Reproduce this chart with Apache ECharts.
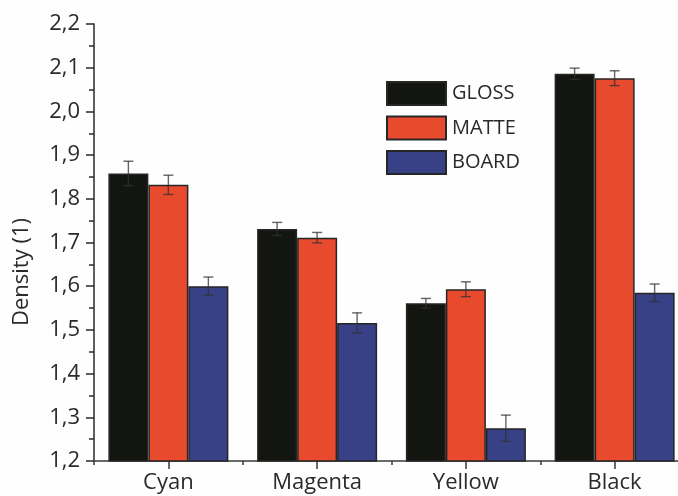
<!DOCTYPE html>
<html>
<head>
<meta charset="utf-8">
<script src="https://cdn.jsdelivr.net/npm/echarts@6/dist/echarts.min.js"></script>
<style>
  html, body { margin: 0; padding: 0; background: #fefefe; overflow: hidden; }
  #chart { width: 700px; height: 496px; }
</style>
</head>
<body>
<div id="chart"></div>
<script>
// Ink densities per colour and paper type, with standard deviations
const categories = ['Cyan', 'Magenta', 'Yellow', 'Black'];
const seriesNames = ['GLOSS', 'MATTE', 'BOARD'];
const gloss    = [1.858, 1.731, 1.561, 2.086];
const glossErr = [0.028, 0.015, 0.011, 0.013];
const matte    = [1.832, 1.711, 1.593, 2.076];
const matteErr = [0.022, 0.012, 0.017, 0.017];
const board    = [1.600, 1.516, 1.275, 1.585];
const boardErr = [0.021, 0.023, 0.030, 0.020];
const yTicks   = [1.2, 2.2, 0.1]; // min, max, step

const colors = ['#131511', '#e84a2e', '#384186'];
const values = [gloss, matte, board];
const errors = [glossErr, matteErr, boardErr];
const BAR_W = 40;
const FONT = '"Open Sans", sans-serif';
const TEXT_COLOR = '#2a2a2a';

const chart = echarts.init(document.getElementById('chart'), null, { renderer: 'canvas' });

const barSeries = seriesNames.map((name, s) => ({
  name: name,
  type: 'bar',
  xAxisIndex: 0,
  barWidth: BAR_W,
  barGap: '0%',
  itemStyle: { color: colors[s], borderColor: '#262626', borderWidth: 1.5 },
  data: values[s],
  z: 2
}));

// error bars drawn on top of each bar
const errSeries = seriesNames.map((name, s) => ({
  type: 'custom',
  xAxisIndex: 0,
  z: 5,
  silent: true,
  data: values[s].map((v, i) => [i, v, errors[s][i]]),
  renderItem: function (params, api) {
    const i = api.value(0), v = api.value(1), e = api.value(2);
    const top = api.coord([i, v + e]);
    const bot = api.coord([i, v - e]);
    const x = top[0] + (s - 1) * BAR_W;
    const cap = 5;
    const st = { stroke: 'rgba(50,50,50,0.75)', lineWidth: 1.4 };
    return {
      type: 'group',
      children: [
        { type: 'line', shape: { x1: x, y1: top[1], x2: x, y2: bot[1] }, style: st },
        { type: 'line', shape: { x1: x - cap, y1: top[1], x2: x + cap, y2: top[1] }, style: st },
        { type: 'line', shape: { x1: x - cap, y1: bot[1], x2: x + cap, y2: bot[1] }, style: st }
      ]
    };
  }
}));

chart.setOption({
  animation: false,
  backgroundColor: '#fefefe',
  grid: { left: 94, top: 24, right: 11, bottom: 35 },
  legend: {
    orient: 'vertical',
    left: 386,
    top: 81,
    padding: 0,
    itemWidth: 59,
    itemHeight: 23,
    itemGap: 9.5,
    icon: 'rect',
    data: seriesNames,
    textStyle: { fontFamily: FONT, fontSize: 20, color: TEXT_COLOR, padding: [0, 0, 0, 1] }
  },
  xAxis: [
    {
      type: 'category',
      data: categories,
      position: 'bottom',
      axisLine: { lineStyle: { color: '#3a3a3a', width: 1.5 } },
      axisTick: { show: true, length: 4, lineStyle: { color: '#3a3a3a', width: 1.5 } },
      axisLabel: { show: false }
    },
    {
      type: 'category',
      data: categories,
      position: 'bottom',
      axisLine: { show: false },
      axisTick: { show: true, alignWithLabel: true, length: 8, lineStyle: { color: '#3a3a3a', width: 1.5 } },
      axisLabel: { margin: 11, fontFamily: FONT, fontSize: 22, color: TEXT_COLOR }
    }
  ],
  yAxis: {
    type: 'value',
    min: yTicks[0],
    max: yTicks[1],
    interval: yTicks[2],
    axisLine: { show: true, lineStyle: { color: '#2a2a2a', width: 1.5 } },
    axisTick: { show: true, length: 8, lineStyle: { color: '#2a2a2a', width: 1.5 } },
    minorTick: { show: true, splitNumber: 2, length: 5, lineStyle: { color: '#2a2a2a', width: 1.5 } },
    splitLine: { show: false },
    axisLabel: {
      margin: 14,
      fontFamily: FONT,
      fontSize: 22,
      color: TEXT_COLOR,
      formatter: v => v.toFixed(1).replace('.', ',')
    }
  },
  graphic: [{
    type: 'text',
    x: 22,
    y: 272,
    rotation: Math.PI / 2,
    style: {
      text: 'Density (1)',
      fontFamily: FONT,
      fontSize: 22,
      fill: TEXT_COLOR,
      textAlign: 'center',
      textVerticalAlign: 'middle'
    }
  }],
  series: barSeries.concat(errSeries)
});
</script>
</body>
</html>
